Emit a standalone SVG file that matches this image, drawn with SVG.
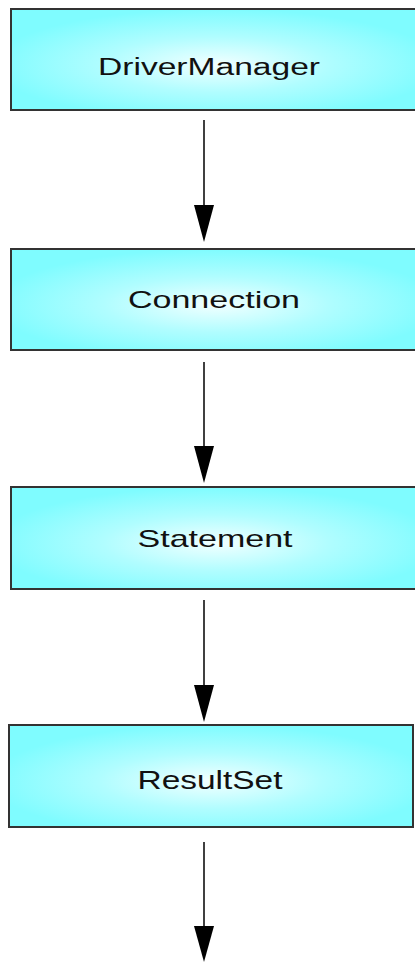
<svg xmlns="http://www.w3.org/2000/svg" width="415" height="962" viewBox="0 0 415 962">
<style>
.box{fill:url(#g);stroke:#333;stroke-width:2}
.lbl{font-family:"Liberation Sans",Arial,sans-serif;fill:#111;text-anchor:middle}
.ln{stroke:#000;stroke-width:1.5;fill:none}
.hd{fill:#000}
</style>
<defs>
<radialGradient id="g" cx="50%" cy="55%" r="55%">
<stop offset="0" stop-color="#f2ffff"/>
<stop offset="0.5" stop-color="#b0fdff"/>
<stop offset="1" stop-color="#7ffcff"/>
</radialGradient>
</defs>
<g id="connectors">
<line class="ln" x1="204" y1="120" x2="204" y2="210"/>
<polygon class="hd" points="194,205 214,205 204,242"/>
<line class="ln" x1="204" y1="362" x2="204" y2="450"/>
<polygon class="hd" points="194,446 214,446 204,483"/>
<line class="ln" x1="204" y1="600" x2="204" y2="690"/>
<polygon class="hd" points="194,685 214,685 204,722"/>
<line class="ln" x1="204" y1="842" x2="204" y2="930"/>
<polygon class="hd" points="194,926 214,926 204,962"/>
</g>
<g id="DriverManager">
<rect class="box" x="11" y="9" width="410" height="101"/>
<text class="lbl" x="209" y="75" font-size="23" textLength="222" lengthAdjust="spacingAndGlyphs">DriverManager</text>
</g>
<g id="Connection">
<rect class="box" x="11" y="249" width="410" height="101"/>
<text class="lbl" x="214" y="308" font-size="24" textLength="172" lengthAdjust="spacingAndGlyphs">Connection</text>
</g>
<g id="Statement">
<rect class="box" x="11" y="487" width="410" height="102"/>
<text class="lbl" x="215" y="547" font-size="24" textLength="155" lengthAdjust="spacingAndGlyphs">Statement</text>
</g>
<g id="ResultSet">
<rect class="box" x="9" y="725" width="404" height="102"/>
<text class="lbl" x="210" y="789" font-size="25" textLength="145" lengthAdjust="spacingAndGlyphs">ResultSet</text>
</g>
</svg>
